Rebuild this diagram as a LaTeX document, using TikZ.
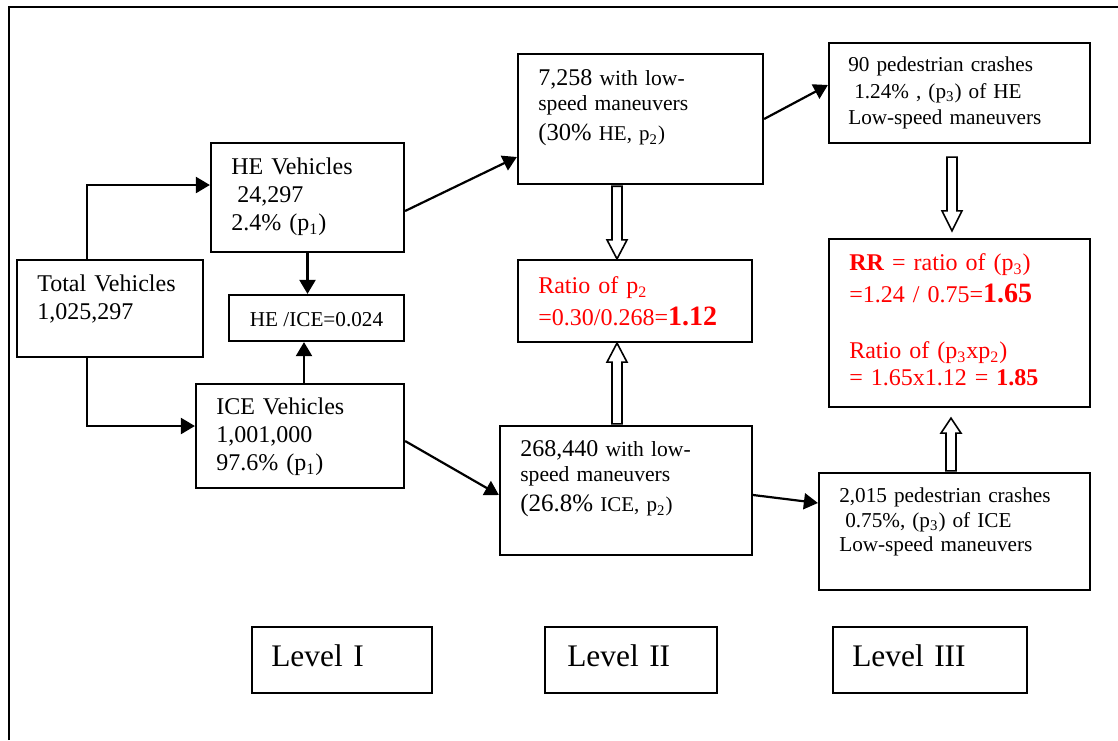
\documentclass[tikz,border=0pt]{standalone}
\usepackage{fontspec}
\setmainfont{Liberation Serif}
\usetikzlibrary{fit,calc,arrows.meta}
\definecolor{rd}{RGB}{255,0,0}
\newcommand\fsz[2]{\fontsize{#1}{#2}\selectfont}
\begin{document}
\begin{tikzpicture}[x=0.5pt,y=-0.5pt,
  box/.style={draw, line width=1.1pt, inner sep=0pt},
  txt/.style={anchor=base west, inner sep=0pt, align=left, text width=#1},
  txt/.default=100pt,
  arr/.style={line width=1.1pt, -{Triangle[length=7pt,width=8pt]}},
  fatdown/.style={draw, line width=0.8pt, fill=white, to path={let \p1=(\tikztostart), \p2=(\tikztotarget) in (\x1-2.5pt,\y1) -- (\x1-2.5pt,\y2+#1) -- (\x1-5pt,\y2+#1) -- (\x1,\y2) -- (\x1+5pt,\y2+#1) -- (\x1+2.5pt,\y2+#1) -- (\x1+2.5pt,\y1) -- cycle}},
  fatup/.style={draw, line width=0.8pt, fill=white, to path={let \p1=(\tikztostart), \p2=(\tikztotarget) in (\x1-2.5pt,\y1) -- (\x1-2.5pt,\y2-#1) -- (\x1-5pt,\y2-#1) -- (\x1,\y2) -- (\x1+5pt,\y2-#1) -- (\x1+2.5pt,\y2-#1) -- (\x1+2.5pt,\y1) -- cycle}}
]
\useasboundingbox (0,0) rectangle (1118,740);
% frame
\draw[line width=1.15pt] (9,740) -- (9,7) -- (1118,7);

% boxes
\node[box, fit={(17,260) (203,357)}] (total) {};
\node[box, fit={(211,143) (404,252)}] (he) {};
\node[box, fit={(229,295) (404,341)}] (heice) {};
\node[box, fit={(196,384) (404,488)}] (ice) {};
\node[box, fit={(518,54) (763,184)}] (b7258) {};
\node[box, fit={(518,260) (752,342)}] (ratio) {};
\node[box, fit={(500,426) (752,555)}] (b268) {};
\node[box, fit={(829,43) (1090,143)}] (ped90) {};
\node[box, fit={(829,239) (1090,407)}] (rr) {};
\node[box, fit={(819,473) (1090,590)}] (b2015) {};
\node[box, fit={(252,627) (432,693)}] (lv1) {};
\node[box, fit={(545,627) (717,693)}] (lv2) {};
\node[box, fit={(833,627) (1027,693)}] (lv3) {};

% texts
\node[txt=80pt, font=\fsz{12}{14}] (totalT) at ([xshift=10.5pt,yshift=-16.5pt]total.north west) {Total Vehicles\\1,025,297};
\node[txt=80pt, font=\fsz{12}{14}] (heT) at ([xshift=10.5pt,yshift=-16.5pt]he.north west) {HE Vehicles\\\hspace*{3pt}24,297\\2.4\% (p\textsubscript{1})};
\node[anchor=base, inner sep=0pt, font=\fsz{10.6}{12}] (heiceT) at ([yshift=-4pt]heice.center) {HE /ICE=0.024};
\node[txt=80pt, font=\fsz{12}{14}] (iceT) at ([xshift=10.5pt,yshift=-16pt]ice.north west) {ICE Vehicles\\1,001,000\\97.6\% (p\textsubscript{1})};
\node[txt=100pt, font=\fsz{10.8}{12.5}] (b7258T) at ([xshift=10.5pt,yshift=-16.5pt]b7258.north west) {{\fsz{12}{12.5}7,258} with low-\\speed maneuvers\\[2.5pt]{\fsz{12.3}{12.5}(30\%} {\fsz{10.5}{12.5}HE, p\textsubscript{2})}};
\node[txt=100pt, font=\fsz{12}{16}, text=rd] (ratioT) at ([xshift=10.5pt,yshift=-17.5pt]ratio.north west) {Ratio of p\textsubscript{2}\\=0.30/0.268=\textbf{\fsz{14}{16}1.12}};
\node[txt=100pt, font=\fsz{10.8}{12.5}] (b268T) at ([xshift=10.5pt,yshift=-16pt]b268.north west) {{\fsz{12}{12.5}268,440} with low-\\speed maneuvers\\[2.5pt]{\fsz{12.5}{12.5}(26.8\%} {\fsz{10.5}{12.5}ICE, p\textsubscript{2})}};
\node[txt=110pt, font=\fsz{10.6}{13.25}] (ped90T) at ([xshift=10pt,yshift=-15pt]ped90.north west) {90 pedestrian crashes\\\hspace*{3pt}1.24\% , (p\textsubscript{3}) of HE\\Low-speed maneuvers};
\node[txt=110pt, font=\fsz{12}{14}, text=rd] (rrT) at ([xshift=10.5pt,yshift=-16.5pt]rr.north west) {\textbf{RR} = ratio of (p\textsubscript{3})\\[2pt]=1.24 / 0.75=\textbf{\fsz{14}{14}1.65}\\[14pt]Ratio of (p\textsubscript{3}xp\textsubscript{2})\\[-0.5pt]= 1.65x1.12 = \textbf{1.85}};
\node[txt=115pt, font=\fsz{10.6}{12.25}] (b2015T) at ([xshift=10.5pt,yshift=-15.5pt]b2015.north west) {2,015 pedestrian crashes\\\hspace*{3pt}0.75\%, (p\textsubscript{3}) of ICE\\Low-speed maneuvers};
\node[txt=70pt, font=\fsz{15.7}{18}] (lv1T) at ([xshift=10pt,yshift=-20.5pt]lv1.north west) {Level I};
\node[txt=70pt, font=\fsz{15.7}{18}] (lv2T) at ([xshift=11.5pt,yshift=-20.5pt]lv2.north west) {Level II};
\node[txt=80pt, font=\fsz{15.7}{18}] (lv3T) at ([xshift=10pt,yshift=-20.5pt]lv3.north west) {Level III};

% connectors
\draw[arr] ([xshift=35.5pt]total.north west) |- ([yshift=6.25pt]he.west);
\draw[arr] ([xshift=35.5pt]total.south west) |- ([yshift=5pt]ice.west);
\draw[arr] (he.south) -- (he.south |- heice.north);
\coordinate (iceup) at ([xshift=2pt]ice.north);
\draw[arr] (iceup) -- (iceup |- heice.south);
\draw[arr] ([yshift=-6.75pt]he.east) -- ([yshift=-19pt]b7258.west);
\draw[arr] (b7258.east) -- ([yshift=4pt]ped90.west);
\draw[arr] ([yshift=-2.5pt]ice.east) -- ([yshift=-2.25pt]b268.west);
\draw[arr] ([yshift=-2.25pt]b268.east) -- ([yshift=14.25pt]b2015.west);

% hollow arrows
\draw[fatdown=9.5pt] ([xshift=-11.75pt,yshift=-0.55pt]b7258.south) to ([xshift=-9pt]ratio.north);
\draw[fatup=9.5pt] ([xshift=-4.5pt,yshift=0.55pt]b268.north) to ([xshift=-9pt]ratio.south);
\draw[fatdown=10pt] ([xshift=-3.75pt,yshift=-6.5pt]ped90.south) to ([xshift=-3.75pt,yshift=3.5pt]rr.north);
\draw[fatup=7.5pt] ([xshift=-1.75pt,yshift=0.55pt]b2015.north) to ([xshift=-1.75pt,yshift=-5pt]rr.south);
\end{tikzpicture}
\end{document}
